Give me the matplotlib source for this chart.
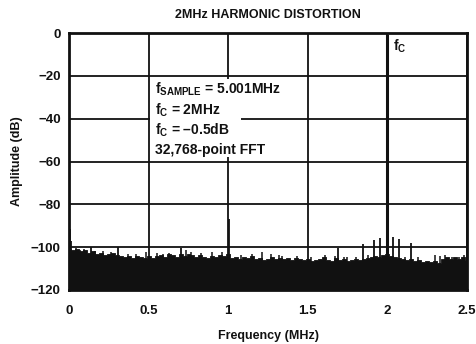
import numpy as np
import matplotlib
matplotlib.use("Agg")
import matplotlib.pyplot as plt
from matplotlib.patches import Rectangle

plt.rcParams["font.family"] = ["Liberation Sans", "DejaVu Sans"]
plt.rcParams["font.weight"] = "bold"
plt.rcParams["mathtext.fontset"] = "custom"
plt.rcParams["mathtext.rm"] = "Liberation Sans:bold"
plt.rcParams["mathtext.it"] = "Liberation Sans:bold"
plt.rcParams["mathtext.bf"] = "Liberation Sans:bold"

INK = "#111111"

# noise-floor envelope, read every 0.025 MHz (dB)
floor_f = np.arange(0, 2.5001, 0.025)
floor_db = [
    -101.0, -101.5, -101.0, -102.0, -101.5, -102.5, -102.0, -103.0, -102.5, -103.5,
    -103.0, -102.5, -103.5, -104.0, -104.5, -104.0, -105.0, -104.0, -104.5, -105.0,
    -104.0, -105.0, -104.0, -103.5, -104.5, -103.0, -103.5, -104.5, -103.0, -104.0,
    -103.0, -103.5, -104.5, -103.5, -104.5, -105.0, -104.0, -104.5, -103.5, -104.0,
    -103.0, -105.0, -104.5, -105.5, -104.5, -105.0, -104.0, -105.5, -105.0, -106.0,
    -105.5, -104.5, -105.5, -105.0, -105.5, -105.0, -106.0, -105.0, -105.5, -106.0,
    -105.5, -106.5, -106.0, -105.5, -104.5, -106.0, -106.5, -105.0, -106.0, -105.5,
    -106.5, -106.0, -105.5, -106.0, -105.5, -105.0, -104.5, -104.0, -104.5, -103.5,
    -103.0, -104.0, -104.5, -105.0, -105.5, -106.0, -105.5, -106.5, -106.0, -107.0,
    -106.5, -107.0, -106.5, -107.5, -105.5, -104.5, -105.5, -104.5, -105.5, -104.5,
    -106.0,
]

# small noise peaks poking out of the floor
grass_f = [0.044, 0.07, 0.095, 0.16, 0.21, 0.26, 0.368, 0.42, 0.48, 0.55,
           0.587, 0.63, 0.733, 0.764, 0.83, 0.90, 0.963, 1.08, 1.15, 1.21,
           1.27, 1.32, 1.34, 1.43, 1.52, 1.61, 1.67, 1.727, 1.748, 1.80,
           1.88, 2.11, 2.19, 2.30, 2.33, 2.364, 2.406, 2.448, 2.48]
grass_db = [-100.5, -101.5, -101.0, -101.8, -102.0, -102.2, -103.0, -103.2, -102.4, -102.8,
            -103.0, -102.6, -101.5, -102.4, -102.8, -102.4, -102.4, -103.5, -103.0, -102.4,
            -103.4, -103.8, -104.2, -104.0, -104.4, -103.6, -104.2, -104.4, -104.8, -104.6,
            -103.8, -104.4, -104.6, -103.8, -104.2, -103.6, -104.8, -104.8, -103.8]

# discrete spurs
spur_f = [0.005, 0.012, 0.136, 0.305, 0.70, 1.003, 1.688, 1.845, 1.917, 1.955,
          2.032, 2.072, 2.148]
spur_db = [-91.5, -97.0, -99.7, -99.7, -100.5, -87.0, -100.5, -98.4, -96.6, -95.8,
           -95.1, -96.3, -98.0]

fund_f, fund_db = 2.0, -0.5

xticks = [0, 0.5, 1, 1.5, 2, 2.5]
xticklabels = ["0", "0.5", "1", "1.5", "2", "2.5"]
yticks = [0, -20, -40, -60, -80, -100, -120]
yticklabels = ["0", "\u221220", "\u221240", "\u221260", "\u221280", "\u2212100", "\u2212120"]

fig = plt.figure(figsize=(4.77, 3.44), dpi=100, facecolor="white")
ax = fig.add_axes([0.145, 0.157, 0.834, 0.747])
ax.set_xlim(0, 2.5)
ax.set_ylim(-120, 0)

ax.grid(True, color=INK, lw=1.3, zorder=1)
ax.set_xticks(xticks)
ax.set_xticklabels(xticklabels)
ax.set_yticks(yticks)
ax.set_yticklabels(yticklabels)
ax.tick_params(length=0, labelsize=9.5, colors=INK)
ax.tick_params(axis="x", pad=11)
ax.tick_params(axis="y", pad=6)
for s in ax.spines.values():
    s.set_linewidth(2.0)
    s.set_color(INK)

ax.fill_between(floor_f, floor_db, -120, step="mid", color=INK, lw=0.6, zorder=3)
ax.vlines(grass_f, -120, grass_db, color=INK, lw=1.1, zorder=3)
ax.vlines(spur_f, -120, spur_db, color=INK, lw=1.3, zorder=3)
ax.vlines([fund_f], -120, fund_db, color=INK, lw=2.2, zorder=3)

# white panel behind the annotation
ax.add_patch(Rectangle((0.505, -58.0), 0.575, 35.5, facecolor="white",
                       edgecolor="none", zorder=2))
tx = 0.54
fs = 10
ax.text(tx, -26.5, "$\\mathregular{f_{SAMPLE}}$ = 5.001MHz", fontsize=fs,
        color=INK, va="center", zorder=4,
        bbox=dict(facecolor="white", edgecolor="none", pad=1.5))
ax.text(tx, -36, "$\\mathregular{f_C}$ = 2MHz", fontsize=fs, color=INK,
        va="center", zorder=4)
ax.text(tx, -45.5, "$\\mathregular{f_C}$ = \u20130.5dB", fontsize=fs, color=INK,
        va="center", zorder=4)
ax.text(tx, -54.5, "32,768-point FFT", fontsize=fs, color=INK, va="center",
        zorder=4)
ax.text(2.035, -6, "$\\mathregular{f_C}$", fontsize=fs, color=INK,
        va="center", zorder=4)

ax.set_title("2MHz HARMONIC DISTORTION", fontsize=9, fontweight="bold",
             color=INK, pad=11)
ax.set_xlabel("Frequency (MHz)", fontsize=9, fontweight="bold", color=INK,
              labelpad=9)
ax.set_ylabel("Amplitude (dB)", fontsize=9, fontweight="bold", color=INK,
              labelpad=6)

fig.savefig("out.png", dpi=100, facecolor="white")
